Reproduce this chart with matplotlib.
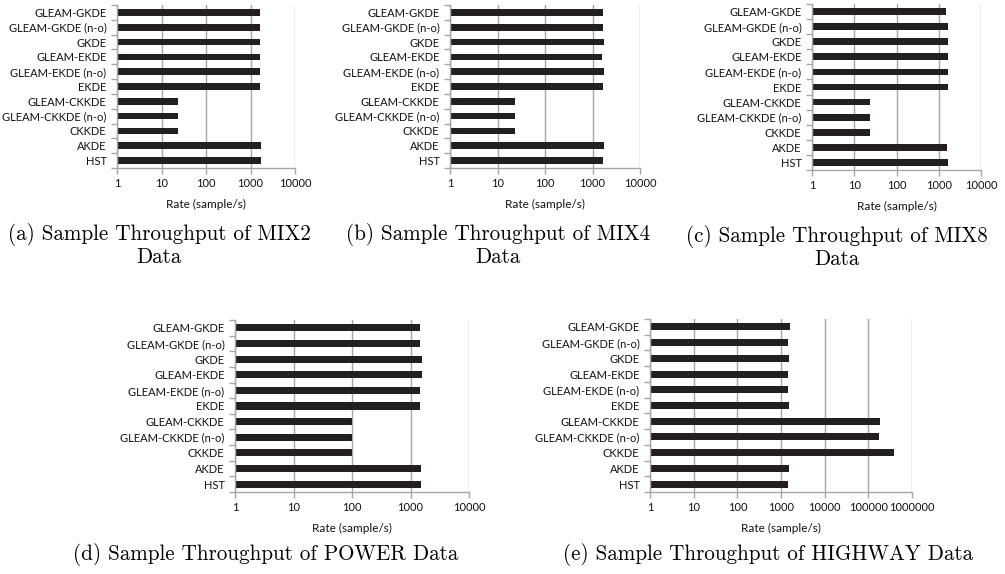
import numpy as np
import matplotlib
matplotlib.use("Agg")
import matplotlib.pyplot as plt
from matplotlib.ticker import FixedLocator, FixedFormatter, NullLocator

# methods, listed top to bottom as in the figure
methods = ['GLEAM-GKDE', 'GLEAM-GKDE (n-o)', 'GKDE', 'GLEAM-EKDE', 'GLEAM-EKDE (n-o)',
           'EKDE', 'GLEAM-CKKDE', 'GLEAM-CKKDE (n-o)', 'CKKDE', 'AKDE', 'HST']

# sample throughput (samples/s), same order as methods
mix2 = [1620, 1650, 1630, 1620, 1600, 1620, 22, 22, 22, 1730, 1730]
mix4 = [1640, 1640, 1775, 1560, 1720, 1640, 22, 22, 22, 1775, 1690]
mix8 = [1510, 1690, 1690, 1625, 1690, 1660, 22, 22, 22, 1600, 1690]
power = [1470, 1480, 1570, 1570, 1470, 1460, 100, 100, 100, 1510, 1510]
highway = [1570, 1440, 1540, 1460, 1480, 1510, 182000, 176000, 381000, 1540, 1480]

ticks_4 = [1, 10, 100, 1000, 10000]
ticks_6 = [1, 10, 100, 1000, 10000, 100000, 1000000]

captions = ['(a) Sample Throughput of MIX2\nData',
            '(b) Sample Throughput of MIX4\nData',
            '(c) Sample Throughput of MIX8\nData',
            '(d) Sample Throughput of POWER Data',
            '(e) Sample Throughput of HIGHWAY Data']

W, H = 1005, 574
SANS = 'Lato'
GRID = '#a6a6a6'
BAR = '#231f20'
TXT = '#111111'


def px_box(x0, x1, y0, y1):
    return [x0 / W, 1 - y1 / H, (x1 - x0) / W, (y1 - y0) / H]


def throughput_panel(ax, values, ticks):
    y = np.arange(len(methods))[::-1]
    ax.barh(y, values, height=0.45, color=BAR, left=1)
    ax.set_xscale('log')
    ax.set_xlim(ticks[0], ticks[-1])
    ax.set_ylim(-0.5, len(methods) - 0.5)

    ax.xaxis.set_major_locator(FixedLocator(ticks))
    ax.xaxis.set_major_formatter(FixedFormatter([str(t) for t in ticks]))
    ax.xaxis.set_minor_locator(NullLocator())
    ax.set_yticks(y)
    ax.set_yticklabels(methods)
    ax.set_yticks(np.arange(len(methods) + 1) - 0.5, minor=True)

    ax.tick_params(axis='x', which='major', length=4, width=1, color=GRID,
                   labelsize=8, labelcolor=TXT, pad=3.5)
    ax.tick_params(axis='y', which='major', length=0, pad=7.5,
                   labelsize=8, labelcolor=TXT)
    ax.tick_params(axis='y', which='minor', length=4, width=1, color=GRID)
    for lab in ax.get_xticklabels() + ax.get_yticklabels():
        lab.set_fontfamily(SANS)

    ax.grid(axis='x', which='major', color=GRID, linewidth=1)
    ax.set_axisbelow(True)
    for side in ('top', 'right'):
        ax.spines[side].set_visible(False)
    for side in ('left', 'bottom'):
        ax.spines[side].set_color(GRID)
        ax.spines[side].set_linewidth(1)
    ax.set_xlabel('Rate (sample/s)', fontsize=8.5, fontfamily=SANS,
                  color=TXT, labelpad=7)


fig = plt.figure(figsize=(W / 100, H / 100), dpi=100)

panels = [
    (px_box(117, 295, 5, 168), mix2, ticks_4),
    (px_box(450, 640, 5, 168), mix4, ticks_4),
    (px_box(812, 981, 4, 170), mix8, ticks_4),
    (px_box(235, 469, 320, 492), power, ticks_4),
    (px_box(650, 912, 319, 492), highway, ticks_6),
]
for box, vals, ticks in panels:
    ax = fig.add_axes(box)
    throughput_panel(ax, vals, ticks)

# captions below each panel
cap_pos = [(159, 245), (498, 245), (837, 247), (266, 554), (768, 554)]
for (cx, cy), text in zip(cap_pos, captions):
    fig.text(cx / W, 1 - cy / H, text, ha='center', va='center', ma='center',
             fontsize=15.2, fontfamily='cmr10', linespacing=1.15)

fig.savefig('out.png', dpi=100, facecolor='white')
